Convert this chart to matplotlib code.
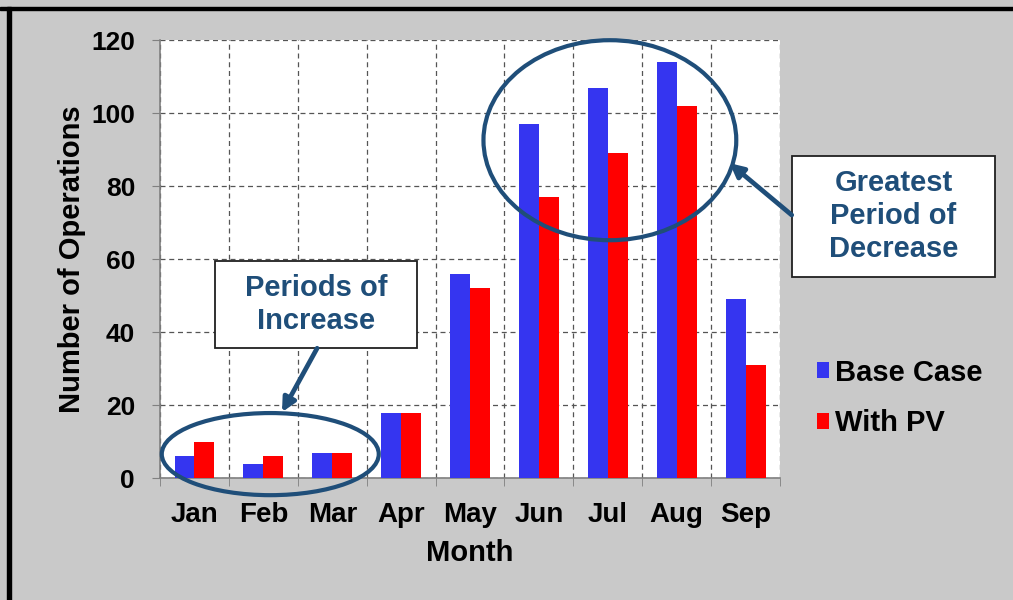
import matplotlib.pyplot as plt
from matplotlib.patches import Ellipse, Rectangle
import numpy as np

# chart data
months = ['Jan', 'Feb', 'Mar', 'Apr', 'May', 'Jun', 'Jul', 'Aug', 'Sep']
base_case = [6, 4, 7, 18, 56, 97, 107, 114, 49]
with_pv = [10, 6, 7, 18, 52, 77, 89, 102, 31]
y_ticks = [0, 20, 40, 60, 80, 100, 120]

plt.rcParams['font.family'] = ['Liberation Sans', 'DejaVu Sans']
plt.rcParams['font.weight'] = 'bold'

navy = '#1f4e79'
bg = '#c9c9c9'

fig = plt.figure(figsize=(10.13, 6), dpi=100, facecolor=bg)
ax = fig.add_axes([0.158, 0.203, 0.612, 0.730])
ax.set_facecolor('white')

# bars
x = np.arange(len(months))
w = 0.29
ax.bar(x - w / 2, base_case, w, color='#3535f0', label='Base Case', zorder=3)
ax.bar(x + w / 2, with_pv, w, color='#ff0000', label='With PV', zorder=3)

# axes, ticks, grid
ax.set_xlim(-0.5, len(months) - 0.5)
ax.set_ylim(0, 120)
ax.set_yticks(y_ticks)
ax.set_yticklabels([str(t) for t in y_ticks], fontsize=19, fontweight='bold')
ax.set_xticks(x)
ax.set_xticklabels(months, fontsize=20, fontweight='bold')
ax.tick_params(axis='x', length=0, pad=17)
ax.tick_params(axis='y', length=6, color='#808080', pad=12)
ax.set_xticks(np.arange(-0.5, len(months), 1), minor=True)
ax.tick_params(axis='x', which='minor', length=6, color='#808080')
ax.grid(True, which='minor', axis='x', linestyle=(0, (4, 3)), color='#555555', linewidth=0.9, zorder=0)
ax.grid(True, which='major', axis='y', linestyle=(0, (4, 3)), color='#555555', linewidth=0.9, zorder=0)
for s in ['top', 'right']:
    ax.spines[s].set_visible(False)
for s in ['left', 'bottom']:
    ax.spines[s].set_color('#808080')
    ax.spines[s].set_linewidth(1.2)

ax.set_xlabel('Month', fontsize=21, fontweight='bold', labelpad=8)
ax.set_ylabel('Number of Operations', fontsize=21, fontweight='bold', labelpad=4)

# legend
ax.legend(loc='center left', bbox_to_anchor=(1.036, 0.183), frameon=False,
          handlelength=0.42, handleheight=0.45, handletextpad=0.2, borderpad=0,
          labelspacing=0.78, prop={'weight': 'bold', 'size': 21})

# annotation ellipses
ax.add_patch(Ellipse((1.10, 6.6), 3.15, 22.5, fill=False, edgecolor=navy,
                     linewidth=3, clip_on=False, zorder=5))
ax.add_patch(Ellipse((6.03, 92.6), 3.67, 54.8, fill=False, edgecolor=navy,
                     linewidth=3, clip_on=False, zorder=5))

# callout boxes
ax.add_patch(Rectangle((0.0887, 0.297), 0.3258, 0.198, transform=ax.transAxes, facecolor='white',
                       edgecolor='#202020', linewidth=1.3, zorder=6, clip_on=False))
ax.text(0.252, 0.396, 'Periods of\nIncrease', transform=ax.transAxes, ha='center', va='center',
        fontsize=21, fontweight='bold', color=navy, linespacing=1.22, zorder=7)
ax.add_patch(Rectangle((1.019, 0.459), 0.328, 0.276, transform=ax.transAxes, facecolor='white',
                       edgecolor='#202020', linewidth=1.3, zorder=6, clip_on=False))
ax.text(1.183, 0.598, 'Greatest\nPeriod of\nDecrease', transform=ax.transAxes, ha='center',
        va='center', fontsize=21, fontweight='bold', color=navy, linespacing=1.22,
        zorder=7, clip_on=False)

# arrows
ax.annotate('', xy=(1.27, 18.1), xytext=(1.78, 35.6),
            arrowprops=dict(arrowstyle='-|>,head_length=0.8,head_width=0.4', color=navy, lw=3.4,
                            shrinkA=0, shrinkB=0), zorder=6)
ax.annotate('', xy=(7.77, 86.3), xytext=(8.67, 72.1), annotation_clip=False,
            arrowprops=dict(arrowstyle='-|>,head_length=0.8,head_width=0.4', color=navy, lw=3.4,
                            shrinkA=0, shrinkB=0), zorder=6)

# black frame lines on top and left of the picture
fig.add_artist(Rectangle((0.0, 0.983), 1.0, 0.006, transform=fig.transFigure, color='black'))
fig.add_artist(Rectangle((0.007, 0.0), 0.004, 0.989, transform=fig.transFigure, color='black'))

fig.savefig('out.png', dpi=100, facecolor=bg)
